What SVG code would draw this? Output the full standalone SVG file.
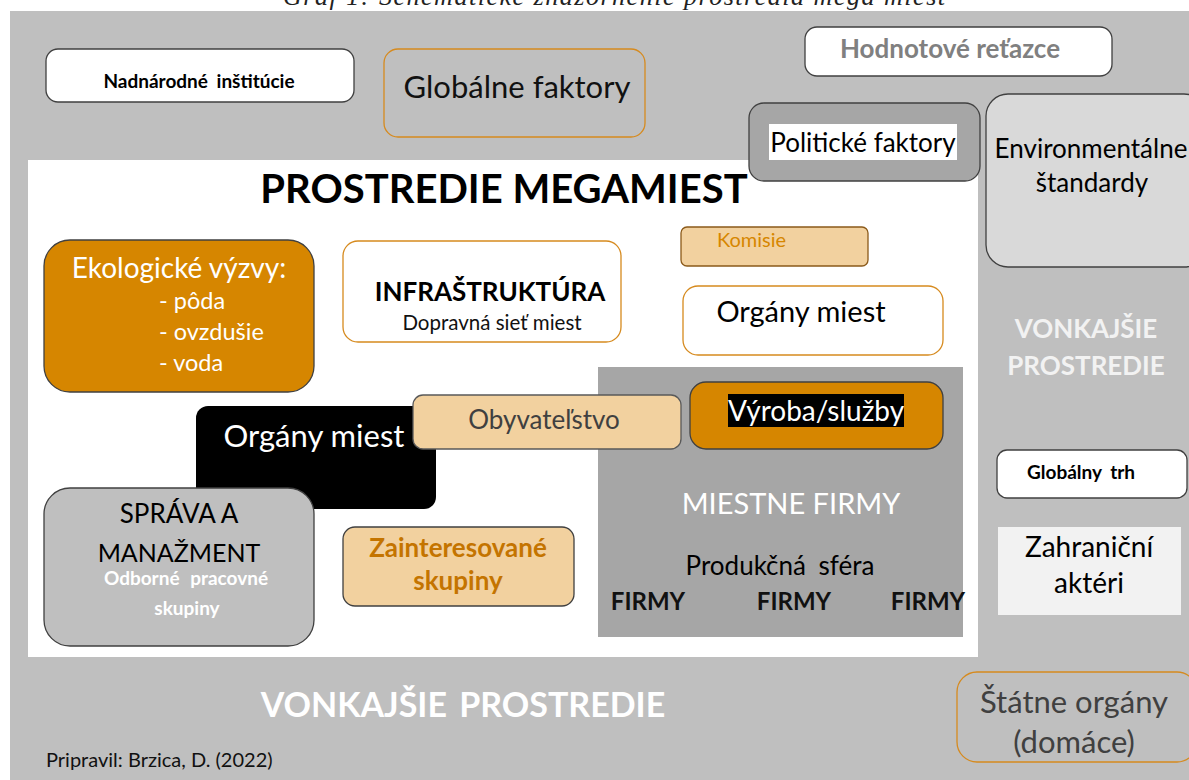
<svg xmlns="http://www.w3.org/2000/svg" width="1189" height="780" viewBox="0 0 1189 780">
<style>
text{font-family:Lato,"Open Sans","Liberation Sans",sans-serif}
.b{font-weight:bold}
.w{fill:#fff}
.k{fill:#000}
.c{text-anchor:middle}
.dk{stroke:#404040;stroke-width:1.3}
.or{stroke:#D68A1E;stroke-width:1.3}
</style>
<rect x="0" y="0" width="1189" height="780" fill="#fff"/>
<text x="614" y="5" font-style="italic" font-size="26" text-anchor="middle" textLength="662" fill="#222" style="font-family:'Liberation Serif',serif">Graf 1: Schematické znázornenie prostredia mega miest</text>
<rect x="10" y="11" width="1179" height="769" fill="#BFBFBF"/>
<rect x="28" y="160" width="950" height="497" fill="#fff"/>
<g id="connectors"/>
<g id="title"><text x="504" y="203" class="b c k" font-size="40">PROSTREDIE MEGAMIEST</text></g>
<g id="nadnarodne"><rect x="46" y="49" width="308" height="53" rx="12" fill="#fff" class="dk"/><text x="199" y="88" class="b c k" font-size="19" word-spacing="4">Nadnárodné inštitúcie</text></g>
<g id="globalne"><rect x="384" y="49" width="261" height="88" rx="14" fill="#BFBFBF" class="or"/><text x="517" y="98" class="c" fill="#111" font-size="31">Globálne faktory</text></g>
<g id="hodnotove"><rect x="805" y="27" width="307" height="49" rx="12" fill="#fff" class="dk"/><text x="950" y="58" class="b c" fill="#808080" font-size="26">Hodnotové reťazce</text></g>
<g id="environmentalne"><rect x="986" y="94" width="220" height="173" rx="22" fill="#D9D9D9" class="dk"/><text x="1091" y="158" class="c k" font-size="26">Environmentálne</text><text x="1092" y="192" class="c k" font-size="26">štandardy</text></g>
<g id="politicke"><rect x="749" y="103" width="231" height="78" rx="15" fill="#A6A6A6" class="dk"/><rect x="769" y="124" width="188" height="36" fill="#fff"/><text x="863" y="152" class="c k" font-size="26">Politické faktory</text></g>
<g id="vonkajsie-right"><text x="1086" y="338" class="b c" fill="#F2F2F2" font-size="26">VONKAJŠIE</text><text x="1086" y="375" class="b c" fill="#F2F2F2" font-size="26">PROSTREDIE</text></g>
<g id="ekologicke"><rect x="44" y="240" width="270" height="152" rx="26" fill="#D68600" class="dk"/><text x="179" y="278" class="c w" font-size="28">Ekologické výzvy:</text><text x="159" y="309" class="w" font-size="23.5">- pôda</text><text x="159" y="340" class="w" font-size="23.5">- ovzdušie</text><text x="159" y="371" class="w" font-size="23.5">- voda</text></g>
<g id="infrastruktura"><rect x="343" y="241" width="278" height="101" rx="15" fill="#fff" class="or"/><text x="490" y="301" class="b c k" font-size="26">INFRAŠTRUKTÚRA</text><text x="492" y="330" class="c" fill="#111" font-size="20.5">Dopravná sieť miest</text></g>
<g id="komisie"><rect x="681" y="227" width="187" height="39" rx="6" fill="#F2D19F" stroke="#8B5A1A" stroke-width="1.3"/><text x="717" y="247" fill="#D68600" font-size="20">Komisie</text></g>
<g id="organy-miest-top"><rect x="683" y="286" width="260" height="69" rx="15" fill="#fff" class="or"/><text x="801" y="322" class="c k" font-size="29">Orgány miest</text></g>
<g id="miestne-firmy"><rect x="598" y="367" width="365" height="270" fill="#A6A6A6"/><text x="791" y="514" class="c w" font-size="29">MIESTNE FIRMY</text><text x="780" y="575" class="c k" font-size="26" word-spacing="6">Produkčná sféra</text><text x="648" y="610" class="b c" fill="#111" font-size="24">FIRMY</text><text x="794" y="610" class="b c" fill="#111" font-size="24">FIRMY</text><text x="928" y="610" class="b c" fill="#111" font-size="24">FIRMY</text></g>
<g id="vyroba"><rect x="690" y="382" width="253" height="67" rx="16" fill="#D68600" class="dk"/><rect x="728" y="394" width="176" height="33" fill="#000"/><text x="816" y="421" class="c w" font-size="28">Výroba/služby</text></g>
<g id="organy-miest-black"><rect x="196" y="406" width="240" height="103" rx="12" fill="#000"/><text x="314" y="447" class="c w" font-size="31">Orgány miest</text></g>
<g id="obyvatelstvo"><rect x="413" y="395" width="268" height="54" rx="10" fill="#F2D19F" stroke="#595959" stroke-width="1.3"/><text x="544" y="429" class="c" fill="#404040" font-size="26">Obyvateľstvo</text></g>
<g id="sprava"><rect x="44" y="488" width="270" height="158" rx="26" fill="#BFBFBF" class="dk"/><text x="179" y="523" class="c k" font-size="26">SPRÁVA A</text><text x="179" y="562" class="c k" font-size="25">MANAŽMENT</text><text x="186" y="585" class="b c w" font-size="19" word-spacing="6">Odborné pracovné</text><text x="187" y="615" class="b c w" font-size="19">skupiny</text></g>
<g id="zainteresovane"><rect x="343" y="527" width="231" height="79" rx="12" fill="#F2D19F" class="dk"/><text x="458" y="557" class="b c" fill="#C47400" font-size="26">Zainteresované</text><text x="458" y="590" class="b c" fill="#C47400" font-size="26">skupiny</text></g>
<g id="globalny-trh"><rect x="997" y="450" width="190" height="48" rx="10" fill="#fff" class="dk"/><text x="1081" y="479" class="b c k" font-size="19" word-spacing="4">Globálny trh</text></g>
<g id="zahranicni"><rect x="998" y="527" width="183" height="88" fill="#F2F2F2"/><text x="1089" y="557" class="c k" font-size="28">Zahraniční</text><text x="1089" y="593" class="c k" font-size="28">aktéri</text></g>
<g id="vonkajsie-bottom"><text x="463" y="717" class="b c w" font-size="34" word-spacing="4">VONKAJŠIE PROSTREDIE</text></g>
<g id="statne"><rect x="957" y="672" width="240" height="90" rx="20" fill="#BFBFBF" class="or"/><text x="1074" y="713" class="c" fill="#404040" font-size="31">Štátne orgány</text><text x="1074" y="753" class="c" fill="#404040" font-size="31">(domáce)</text></g>
<g id="pripravil"><text x="46" y="767" fill="#111" font-size="20">Pripravil: Brzica, D. (2022)</text></g>
</svg>
